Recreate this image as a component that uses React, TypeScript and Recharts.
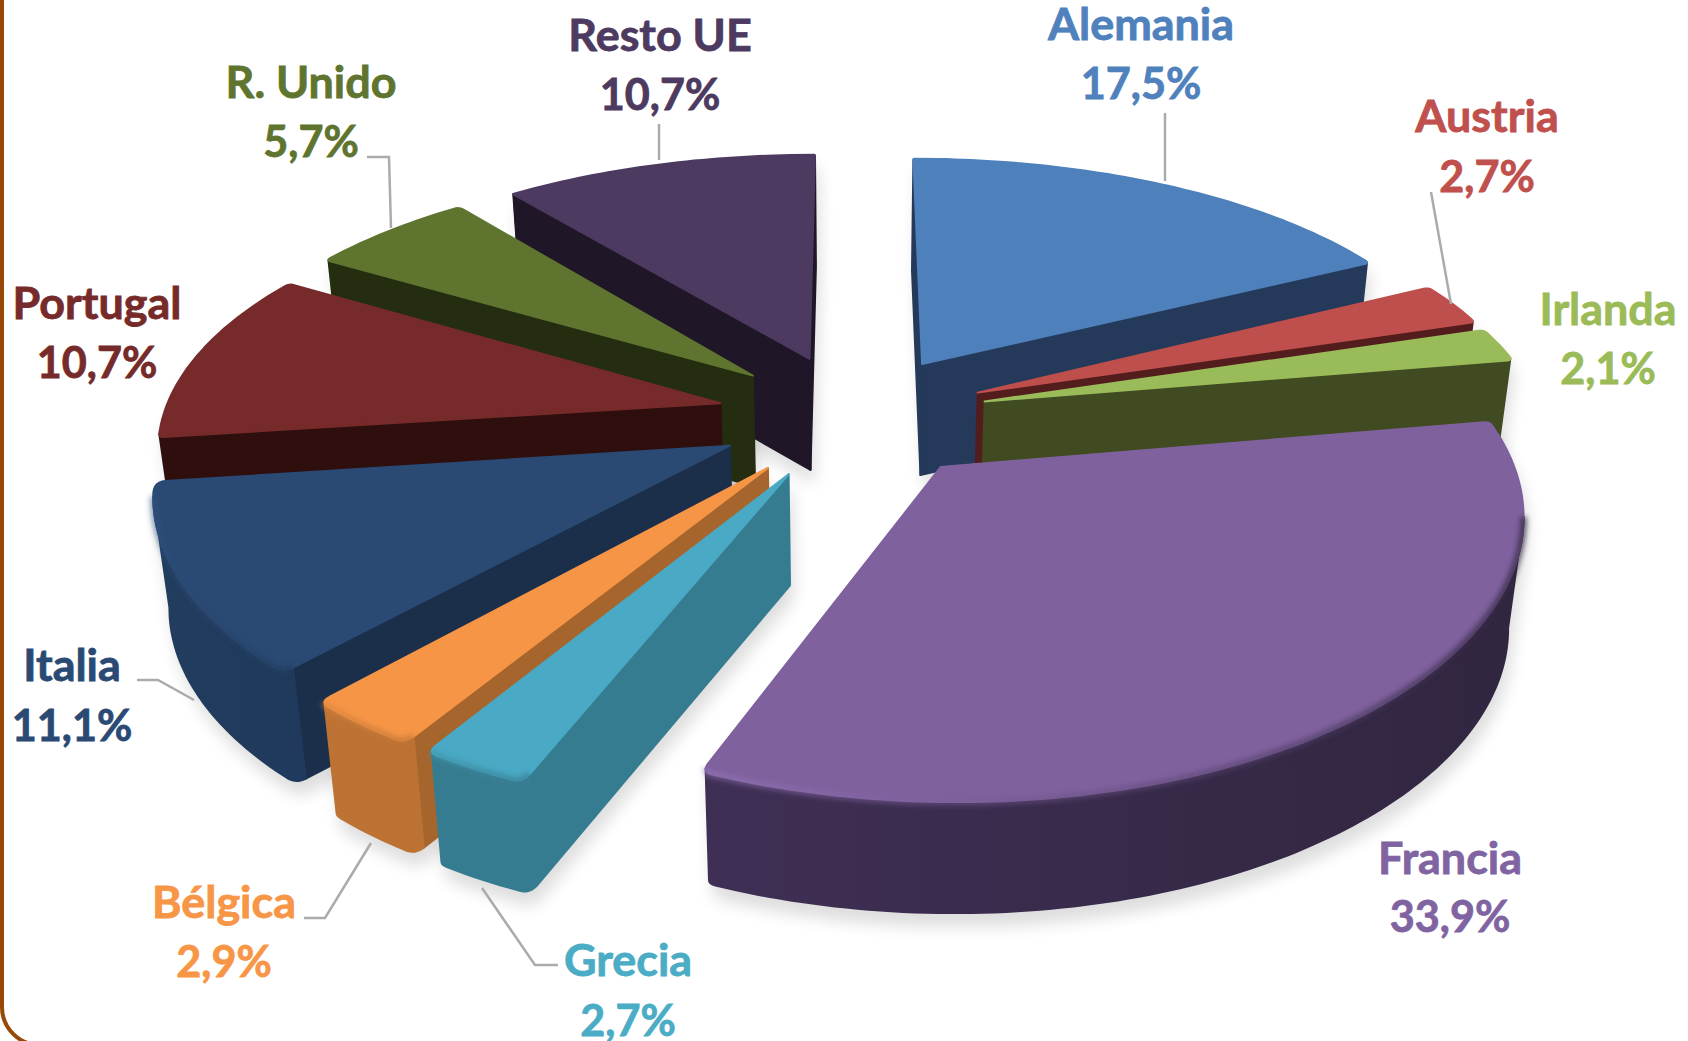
import { PieChart, Pie } from 'recharts'

const WIDTH = 1688
const HEIGHT = 1041

// values as printed on the chart, clockwise from the top
const countries = ['Alemania', 'Austria', 'Irlanda', 'Francia', 'Grecia', 'Bélgica', 'Italia', 'Portugal', 'R. Unido', 'Resto UE']
const shares = [17.5, 2.7, 2.1, 33.9, 2.7, 2.9, 11.1, 10.7, 5.7, 10.7]

const data = countries.map((name, i) => ({ name, value: shares[i] }))

// far slices first so the near ones cover them
const paintOrder = ['Resto UE', 'Alemania', 'R. Unido', 'Austria', 'Portugal', 'Irlanda', 'Italia', 'Bélgica', 'Grecia', 'Francia']

// styles, by country
const topColors: Record<string, string> = {
  Alemania: '#4E80BC', Austria: '#BE4F4C', Irlanda: '#9ABB59', Francia: '#7F619E', Grecia: '#4AA9C4',
  'Bélgica': '#F69546', Italia: '#2A4A74', Portugal: '#762B2A', 'R. Unido': '#5F752F', 'Resto UE': '#4D3A60'
}
const sideColors: Record<string, string> = {
  Alemania: '#253A5A', Austria: '#521D1C', Irlanda: '#404B21', Francia: '#312640', Grecia: '#367C91',
  'Bélgica': '#A5652C', Italia: '#1B2F4B', Portugal: '#2E0F0E', 'R. Unido': '#252D11', 'Resto UE': '#1F1628'
}
const wallStops: Record<string, string[]> = {
  Alemania: ['#253A5A', '#253A5A', '#253A5A'], Austria: ['#521D1C', '#521D1C', '#521D1C'], Irlanda: ['#404B21', '#404B21', '#404B21'],
  Francia: ['#5B4570', '#3F2F55', '#312640'], Grecia: ['#3A88A0', '#367C91', '#367C91'],
  'Bélgica': ['#C57835', '#BF7435', '#BC7233'], Italia: ['#254263', '#223D5E', '#1F3A5C'],
  Portugal: ['#2E0F0E', '#2E0F0E', '#2E0F0E'], 'R. Unido': ['#252D11', '#252D11', '#252D11'], 'Resto UE': ['#1F1628', '#1F1628', '#1F1628']
}
const rimColors: Record<string, string> = {
  Francia: '#B296DC', Grecia: '#7FE0FA', 'Bélgica': '#FFB866', Italia: '#44699A'
}
const labelColors: Record<string, string> = {
  ...topColors, Alemania: '#4F81BD', Austria: '#C0504D', Irlanda: '#9BBB59', Francia: '#8064A2', Grecia: '#4BACC6',
  'Bélgica': '#F79646', Italia: '#2A4A74'
}

// where each label sits: centre x, baseline of the name, baseline of the value
const labelSpots: Record<string, number[]> = {
  Alemania: [1141, 40, 99], Austria: [1487, 132, 192], Irlanda: [1608, 325, 384], Francia: [1450, 874, 932],
  Grecia: [628, 976, 1036], 'Bélgica': [224, 918, 977], Italia: [72, 681, 741], Portugal: [97, 319, 378],
  'R. Unido': [311, 98, 157], 'Resto UE': [660, 51, 110]
}
const leaderLines: Record<string, string> = {
  Alemania: '1165,113 1165,181', Austria: '1431,192 1451,304', 'Resto UE': '659,124 659,160',
  'R. Unido': '367,157 389,157 391,228', Italia: '137,680 158,680 194,700',
  'Bélgica': '304,918 325,918 371,843', Grecia: '482,888 535,965 558,965'
}

// fake 3D view of the pie
const CX = 853
const CY = 416
const EXPLODE = 0.245
const TILT = 0.462
const PERSPECTIVE = 0.173
const PERSPECTIVE_X = 0.15
const DEPTH = 111
const CONVERGE = 0.977

type Pt = [number, number]

const rad = (deg: number) => (deg * Math.PI) / 180

// replaces a sharp corner by a short curve, tighter on the far side of the pie
function roundCorner(before: Pt, corner: Pt, after: Pt): Pt[] {
  const size = corner[1] > CY + 60 ? 11 : corner[1] > CY - 215 ? 5 : 1
  const cut = (from: Pt): Pt => {
    const d = Math.hypot(from[0] - corner[0], from[1] - corner[1])
    const f = size / d
    return [corner[0] + (from[0] - corner[0]) * f, corner[1] + (from[1] - corner[1]) * f]
  }
  const a = cut(before)
  const b = cut(after)
  const pts: Pt[] = []
  for (let i = 0; i <= 6; i++) {
    const t = i / 6
    pts.push([
      (1 - t) * (1 - t) * a[0] + 2 * t * (1 - t) * corner[0] + t * t * b[0],
      (1 - t) * (1 - t) * a[1] + 2 * t * (1 - t) * corner[1] + t * t * b[1]
    ])
  }
  return pts
}

function sliceGeometry(props: any) {
  const { cx, cy, outerRadius, startAngle, endAngle } = props
  // recharts angles run counter clockwise from 3 o'clock, here clockwise from 12
  const a0 = 90 - startAngle
  const a1 = 90 - endAngle
  const mid = (a0 + a1) / 2
  const ox = EXPLODE * Math.sin(rad(mid))
  const oy = EXPLODE * Math.cos(rad(mid))
  const project = (x: number, y: number): Pt => [
    cx + (outerRadius * x) / (1 + PERSPECTIVE_X * y),
    cy - (TILT * outerRadius * y) / (1 + PERSPECTIVE * y)
  ]
  const apex = project(ox, oy)
  const raw: Pt[] = []
  const steps = Math.max(6, Math.ceil(a1 - a0))
  for (let i = 0; i <= steps; i++) {
    const t = rad(a0 + ((a1 - a0) * i) / steps)
    raw.push(project(ox + Math.sin(t), oy + Math.cos(t)))
  }
  const n = raw.length
  const arc: Pt[] = [
    ...roundCorner(apex, raw[0], raw[2]),
    ...raw.slice(3, n - 3),
    ...roundCorner(raw[n - 3], raw[n - 1], apex)
  ]
  return { apex, arc }
}

const toPath = (pts: Pt[]) => 'M' + pts.map((p) => `${p[0].toFixed(1)},${p[1].toFixed(1)}`).join('L') + 'Z'
const toLine = (pts: Pt[]) => 'M' + pts.map((p) => `${p[0].toFixed(1)},${p[1].toFixed(1)}`).join('L')
// the walls lean slightly towards the middle as they go down
const drop = (p: Pt): Pt => [CX + (p[0] - CX) * CONVERGE, p[1] + DEPTH]

function SliceShadow(props: any) {
  const { apex, arc } = sliceGeometry(props)
  return (
    <g fill="#000" stroke="none">
      <path d={toPath([apex, ...arc])} />
      <path d={toPath([apex, ...arc].map(drop))} />
      <path d={toPath([apex, arc[0], drop(arc[0]), drop(apex)])} />
      <path d={toPath([apex, arc[arc.length - 1], drop(arc[arc.length - 1]), drop(apex)])} />
      {arc.slice(1).map((p, i) => (
        <path key={i} d={toPath([arc[i], p, drop(p), drop(arc[i])])} />
      ))}
    </g>
  )
}

function Slice3D(props: any) {
  const name: string = props.name
  const { apex, arc } = sliceGeometry(props)
  const top = topColors[name]
  const side = sideColors[name]
  const id = 'w' + countries.indexOf(name)

  // a cut face shows only if it drops away from the slice's own top
  const midPoint = arc[Math.floor(arc.length / 2)]
  const faces = (rim: Pt) => {
    const cross = (p: Pt) => (rim[0] - apex[0]) * (p[1] - apex[1]) - (rim[1] - apex[1]) * (p[0] - apex[0])
    return cross(midPoint) * cross([apex[0], apex[1] + 1]) < 0
  }
  const cuts = [arc[0], arc[arc.length - 1]].filter(faces)

  // outer wall: the part of the rim that runs right to left on screen
  const front: Pt[] = []
  arc.forEach((p, i) => {
    const next = arc[i + 1]
    const prev = arc[i - 1]
    if ((next && next[0] < p[0]) || (prev && p[0] < prev[0])) front.push(p)
  })
  const xs = front.map((p) => p[0])
  const right = Math.max(...xs, 0)
  const left = Math.min(...xs, 0)
  const stops = wallStops[name]
  const rim = rimColors[name]
  const narrow = right - left < 200

  return (
    <g strokeLinejoin="round">
      <defs>
        <linearGradient id={id} gradientUnits="userSpaceOnUse" x1={left} x2={right} y1={0} y2={0}>
          <stop offset="0" stopColor={stops[0]} />
          <stop offset="0.45" stopColor={stops[1]} />
          <stop offset="1" stopColor={stops[2]} />
        </linearGradient>
        <linearGradient id={id + 'r'} gradientUnits="userSpaceOnUse" x1={left} x2={right} y1={0} y2={0}>
          <stop offset="0" stopColor={rim} stopOpacity={0.95} />
          <stop offset="0.3" stopColor={rim} stopOpacity={narrow ? 0.95 : 0.55} />
          <stop offset="0.6" stopColor={narrow ? rim : top} stopOpacity={narrow ? 0.95 : 0.5} />
          <stop offset="1" stopColor={narrow ? rim : stops[2]} stopOpacity={0.7} />
        </linearGradient>
      </defs>
      {cuts.map((r, i) => (
        <path key={i} d={toPath([apex, r, drop(r), drop(apex)])} fill={side} stroke={side} strokeWidth={2} />
      ))}
      {front.length > 1 && (
        <path d={toPath([...front, ...front.map(drop).reverse()])} fill={`url(#${id})`} stroke={`url(#${id})`} strokeWidth={2} />
      )}
      <path d={toPath([apex, ...arc])} fill={top} stroke={top} strokeWidth={2} />
      {rim && front.length > 1 && (
        <path d={toLine(front)} fill="none" stroke={`url(#${id}r)`} strokeWidth={7} filter="url(#rimBlur)" />
      )}
    </g>
  )
}

function SliceLabel(props: any) {
  const name: string = props.name
  const [x, y0, y1] = labelSpots[name]
  const fill = labelColors[name]
  const text = {
    fontFamily: 'Lato, sans-serif',
    fontWeight: 700,
    fontSize: 44,
    textAnchor: 'middle' as const,
    fill,
    stroke: fill,
    strokeWidth: 0.8
  }
  return (
    <g>
      {leaderLines[name] && <polyline points={leaderLines[name]} fill="none" stroke="#ABABAB" strokeWidth={2.5} />}
      <text {...text} transform={`translate(${x},${y0}) scale(1.02,1)`}>{name}</text>
      <text {...text} transform={`translate(${x},${y1}) scale(0.98,1)`}>{`${props.value.toFixed(1).replace('.', ',')}%`}</text>
    </g>
  )
}

const pieProps = {
  data,
  dataKey: 'value',
  nameKey: 'name',
  cx: CX,
  cy: CY,
  outerRadius: 557,
  startAngle: 90,
  endAngle: -270,
  isAnimationActive: false
}

export default function App() {
  return (
    <div style={{ position: 'fixed', left: 0, top: 0, width: WIDTH, height: HEIGHT, overflow: 'hidden', background: '#fff' }}>
      <div
        style={{
          position: 'absolute',
          left: 0,
          top: -60,
          width: WIDTH + 60,
          height: HEIGHT + 66,
          boxSizing: 'border-box',
          border: '4px solid #984807',
          borderRadius: 40
        }}
      />
      <PieChart width={WIDTH} height={HEIGHT} margin={{ top: 0, right: 0, bottom: 0, left: 0 }} style={{ position: 'absolute', left: 0, top: 0 }}>
        <defs>
          <filter id="rimBlur" x="-10%" y="-30%" width="120%" height="160%">
            <feGaussianBlur stdDeviation="2.5" />
          </filter>
          <filter id="softShadow" x="-10%" y="-10%" width="120%" height="120%">
            <feGaussianBlur stdDeviation="8" />
          </filter>
        </defs>
        <Pie
          {...pieProps}
          shape={(p: any) => (
            <g filter="url(#softShadow)" opacity={0.13} transform="translate(4,14)">
              <SliceShadow {...p} />
            </g>
          )}
        />
        {paintOrder.map((country) => (
          <Pie
            key={country}
            {...pieProps}
            shape={(p: any) => (p.name === country ? <Slice3D {...p} /> : <g />)}
          />
        ))}
        <Pie {...pieProps} fill="none" stroke="none" shape={() => <g />} label={(p: any) => <SliceLabel {...p} />} labelLine={false} />
      </PieChart>
    </div>
  )
}
